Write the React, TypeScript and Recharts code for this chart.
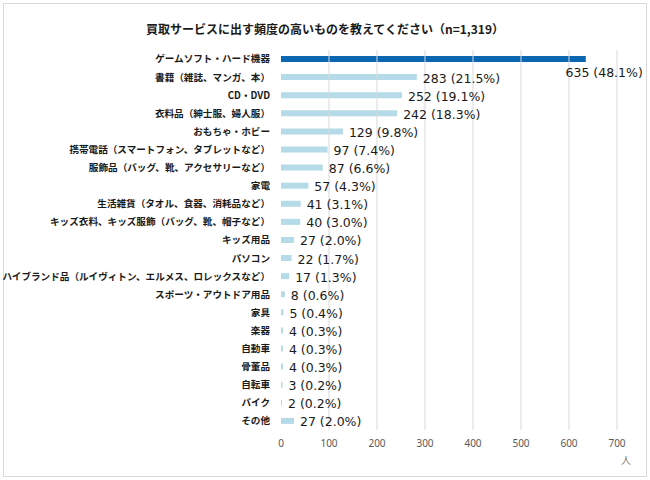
import { Bar, BarChart, Cell, LabelList, ReferenceLine, XAxis, YAxis } from "recharts";

const categories = [
  "ゲームソフト・ハード機器",
  "書籍（雑誌、マンガ、本）",
  "CD・DVD",
  "衣料品（紳士服、婦人服）",
  "おもちゃ・ホビー",
  "携帯電話（スマートフォン、タブレットなど）",
  "服飾品（バッグ、靴、アクセサリーなど）",
  "家電",
  "生活雑貨（タオル、食器、消耗品など）",
  "キッズ衣料、キッズ服飾（バッグ、靴、帽子など）",
  "キッズ用品",
  "パソコン",
  "ハイブランド品（ルイヴィトン、エルメス、ロレックスなど）",
  "スポーツ・アウトドア用品",
  "家具",
  "楽器",
  "自動車",
  "骨董品",
  "自転車",
  "バイク",
  "その他",
];

const counts = [635, 283, 252, 242, 129, 97, 87, 57, 41, 40, 27, 22, 17, 8, 5, 4, 4, 4, 3, 2, 27];
const percents = [48.1, 21.5, 19.1, 18.3, 9.8, 7.4, 6.6, 4.3, 3.1, 3.0, 2.0, 1.7, 1.3, 0.6, 0.4, 0.3, 0.3, 0.3, 0.2, 0.2, 2.0];
const xTicks = [0, 100, 200, 300, 400, 500, 600, 700];

const TITLE = "買取サービスに出す頻度の高いものを教えてください（n=1,319）";
const JP_FONT = '"Noto Sans CJK JP", sans-serif';
const HIGHLIGHT = "#0b67b2";
const BAR_COLOR = "#b4dbe7";

const data = categories.map((name, i) => ({
  name,
  count: counts[i],
  label: `${counts[i]} (${percents[i].toFixed(1)}%)`,
}));

function ValueLabel(props: any) {
  const { x, y, width, height, index } = props;
  const text = data[index].label;
  const common = {
    style: { fontFamily: '"DejaVu Sans", sans-serif' },
    fontSize: 12.5,
    fill: "#1a1a1a",
    dominantBaseline: "central" as const,
  };
  // the longest bar has its label tucked under the bar end, like the original
  if (index === 0) {
    return (
      <text {...common} x={x + width + 57} y={y + height / 2 + 13} textAnchor="end">
        {text}
      </text>
    );
  }
  return (
    <text {...common} x={x + width + 6} y={y + height / 2 + 1} textAnchor="start">
      {text}
    </text>
  );
}

export default function App() {
  return (
    <div style={{ position: "absolute", left: 0, top: 0, width: 650, height: 480, background: "#fff" }}>
      <div
        style={{
          position: "absolute",
          left: 3,
          top: 3,
          width: 642,
          height: 472,
          border: "1px solid #d9d9d9",
        }}
      />
      <div
        style={{
          position: "absolute",
          left: 0,
          top: 20,
          width: 650,
          textAlign: "center",
          fontFamily: JP_FONT,
          fontWeight: 700,
          fontSize: 12,
          color: "#1a1a1a",
        }}
      >
        {TITLE}
      </div>
      <div
        style={{
          position: "absolute",
          left: 621,
          top: 452,
          fontFamily: JP_FONT,
          fontSize: 10,
          color: "#7f7f7f",
        }}
      >
        人
      </div>
      <div style={{ position: "absolute", left: 0, top: 0 }}>
        <BarChart
          width={650}
          height={480}
          data={data}
          layout="vertical"
          margin={{ top: 50, right: 33, left: 0, bottom: 20 }}
        >
          <XAxis
            type="number"
            domain={[0, 700]}
            ticks={xTicks}
            axisLine={false}
            tickLine={false}
            tickMargin={4}
            height={30}
            tick={{ fill: "#595959", fontSize: 10, fontFamily: '"Noto Sans", sans-serif' }}
          />
          <YAxis
            type="category"
            dataKey="name"
            width={281}
            axisLine={false}
            tickLine={false}
            tickMargin={5}
            interval={0}
            tick={{ fill: "#1a1a1a", fontSize: 9.6, fontWeight: 700, fontFamily: JP_FONT }}
          />
          {xTicks.slice(1).map((t) => (
            <ReferenceLine key={t} x={t} stroke="#d9d9d9" strokeWidth={1} />
          ))}
          <Bar dataKey="count" barSize={6} isAnimationActive={false}>
            {data.map((d, i) => (
              <Cell key={d.name} fill={i === 0 ? HIGHLIGHT : BAR_COLOR} />
            ))}
            <LabelList dataKey="label" content={ValueLabel} />
          </Bar>
        </BarChart>
      </div>
    </div>
  );
}
